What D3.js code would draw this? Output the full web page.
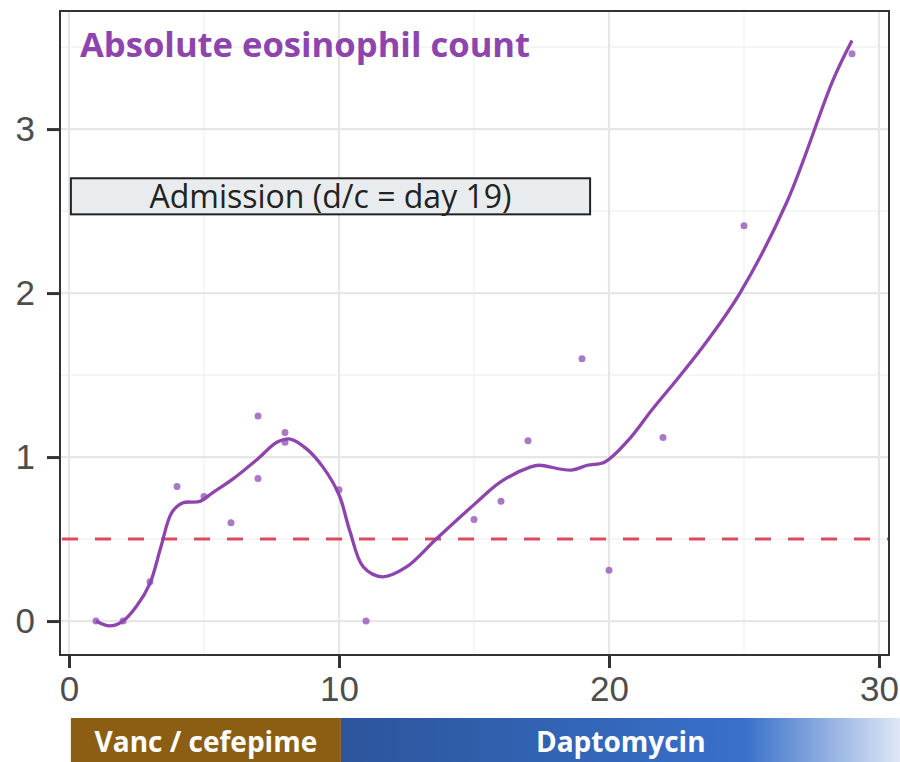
<!DOCTYPE html>
<html>
<head>
<meta charset="utf-8">
<script src="https://cdn.jsdelivr.net/npm/d3@7"></script>
<style>
  html, body { margin: 0; padding: 0; background: #fff; }
  svg { display: block; }
</style>
</head>
<body>
<svg id="chart" width="900" height="762"></svg>
<script>
// ---- data ----
const obsDays   = [1, 2, 3, 4, 5, 6, 7, 7, 8, 8, 10, 11, 15, 16, 17, 19, 20, 22, 25, 29];
const obsValues = [0, 0, 0.24, 0.82, 0.76, 0.60, 1.25, 0.87, 1.15, 1.09, 0.80, 0, 0.62, 0.73, 1.10, 1.60, 0.31, 1.12, 2.41, 3.46];

const smoothDays   = [1, 1.5, 2, 2.5, 3, 3.4, 3.8, 4.2, 4.85, 5.3, 6.1, 7, 7.7, 8.2, 8.8, 9.4, 10, 10.4, 10.9, 11.6, 12.5, 13.6, 15, 16, 17.1, 17.4, 18.6, 19.2, 19.85, 20.7, 21.6, 22.6, 23.6, 24.85, 26.6, 28.3, 29];
const smoothValues = [0, -0.03, 0, 0.09, 0.23, 0.45, 0.66, 0.72, 0.73, 0.78, 0.87, 0.99, 1.09, 1.11, 1.05, 0.94, 0.77, 0.55, 0.33, 0.27, 0.33, 0.50, 0.71, 0.85, 0.94, 0.95, 0.92, 0.95, 0.97, 1.10, 1.29, 1.49, 1.70, 2.00, 2.56, 3.30, 3.54];

const threshold = 0.5;
const xTicks = [0, 10, 20, 30];
const yTicks = [0, 1, 2, 3];
const xMinor = [5, 15, 25];
const yMinor = [0.5, 1.5, 2.5, 3.5];

const titleText = "Absolute eosinophil count";
const admissionLabel = "Admission (d/c = day 19)";
const admissionSpan = [0.07, 19.3];
const admissionRange = [2.48, 2.70];

const treatNames  = ["Vanc / cefepime", "Daptomycin"];
const treatStarts = [0.07, 10.07];
const treatEnds   = [10.07, 30.8];

// ---- layout ----
const svg = d3.select("#chart");
const x = d3.scaleLinear().domain([-0.333, 30.37]).range([60, 889]);
const y = d3.scaleLinear().domain([-0.207, 3.72]).range([655, 11]);

const purple = "#8e44ad";

// gradient for daptomycin
const defs = svg.append("defs");
const grad = defs.append("linearGradient").attr("id", "dapto").attr("x1", "0%").attr("x2", "100%");
grad.append("stop").attr("offset", "0%").attr("stop-color", "#2c559c");
grad.append("stop").attr("offset", "72%").attr("stop-color", "#3870c9");
grad.append("stop").attr("offset", "100%").attr("stop-color", "#dfe8f6");

// grid
const grid = svg.append("g");
grid.selectAll(".xmin").data(xMinor).join("line")
  .attr("x1", d => x(d)).attr("x2", d => x(d)).attr("y1", y.range()[0]).attr("y2", y.range()[1])
  .attr("stroke", "#f0f0f0").attr("stroke-width", 1.2);
grid.selectAll(".ymin").data(yMinor).join("line")
  .attr("y1", d => y(d)).attr("y2", d => y(d)).attr("x1", x.range()[0]).attr("x2", x.range()[1])
  .attr("stroke", "#f0f0f0").attr("stroke-width", 1.2);
grid.selectAll(".xmaj").data(xTicks).join("line")
  .attr("x1", d => x(d)).attr("x2", d => x(d)).attr("y1", y.range()[0]).attr("y2", y.range()[1])
  .attr("stroke", "#e6e6e6").attr("stroke-width", 2.2);
grid.selectAll(".ymaj").data(yTicks).join("line")
  .attr("y1", d => y(d)).attr("y2", d => y(d)).attr("x1", x.range()[0]).attr("x2", x.range()[1])
  .attr("stroke", "#e6e6e6").attr("stroke-width", 2.2);

// threshold
svg.append("line")
  .attr("x1", x.range()[0]).attr("x2", x.range()[1])
  .attr("y1", y(threshold)).attr("y2", y(threshold))
  .attr("stroke", "#dc4a5f").attr("stroke-width", 3)
  .attr("stroke-dasharray", "16,17").attr("stroke-dashoffset", -2);

// points
svg.append("g").selectAll("circle").data(obsDays.map((d, i) => [d, obsValues[i]])).join("circle")
  .attr("cx", d => x(d[0])).attr("cy", d => y(d[1])).attr("r", 3.5)
  .attr("fill", "#9a62bd").attr("opacity", 0.85);

// smooth line
const line = d3.line().x(d => x(d[0])).y(d => y(d[1])).curve(d3.curveCatmullRom.alpha(0.5));
svg.append("path").datum(smoothDays.map((d, i) => [d, smoothValues[i]]))
  .attr("d", line).attr("fill", "none").attr("stroke", purple).attr("stroke-width", 3.3);

// admission box
const ab = svg.append("g");
ab.append("rect")
  .attr("x", x(admissionSpan[0])).attr("width", x(admissionSpan[1]) - x(admissionSpan[0]))
  .attr("y", y(admissionRange[1])).attr("height", y(admissionRange[0]) - y(admissionRange[1]))
  .attr("fill", "#e9ecee").attr("stroke", "#222").attr("stroke-width", 2);
ab.append("text")
  .attr("x", (x(admissionSpan[0]) + x(admissionSpan[1])) / 2)
  .attr("y", y(admissionRange[0]) - 6)
  .attr("text-anchor", "middle")
  .attr("font-family", "Open Sans").attr("font-size", 32).attr("fill", "#222")
  .text(admissionLabel);

// title
svg.append("text").attr("x", 80).attr("y", 57)
  .attr("font-family", "Open Sans").attr("font-weight", 700).attr("font-size", 34.6)
  .attr("fill", purple).text(titleText);

// panel border
svg.append("rect").attr("x", 60).attr("y", 11).attr("width", 829).attr("height", 644)
  .attr("fill", "none").attr("stroke", "#333").attr("stroke-width", 2);

// axes
const yAxis = svg.append("g").attr("transform", "translate(60,0)")
  .call(d3.axisLeft(y).tickValues(yTicks).tickSize(13).tickPadding(12).tickFormat(d3.format("d")));
const xAxis = svg.append("g").attr("transform", "translate(0,655)")
  .call(d3.axisBottom(x).tickValues(xTicks).tickSize(13).tickPadding(8).tickFormat(d3.format("d")));
[yAxis, xAxis].forEach(a => {
  a.select(".domain").remove();
  a.selectAll(".tick line").attr("stroke", "#333").attr("stroke-width", 3);
  a.selectAll(".tick text").attr("fill", "#4d4d4d").attr("font-family", "Liberation Sans, Arial, sans-serif").attr("font-size", 35);
});

// treatment bars
const tb = svg.append("g");
treatNames.forEach((n, i) => {
  const x0 = x(treatStarts[i]), x1 = x(treatEnds[i]);
  tb.append("rect").attr("x", x0).attr("y", 718).attr("width", x1 - x0).attr("height", 44)
    .attr("fill", i === 0 ? "#8b5e14" : "url(#dapto)");
  tb.append("text").attr("x", (x0 + x1) / 2).attr("y", 752).attr("text-anchor", "middle")
    .attr("font-family", "Open Sans").attr("font-weight", 700).attr("font-size", 28)
    .attr("fill", "#fff").text(n);
});
</script>
</body>
</html>
